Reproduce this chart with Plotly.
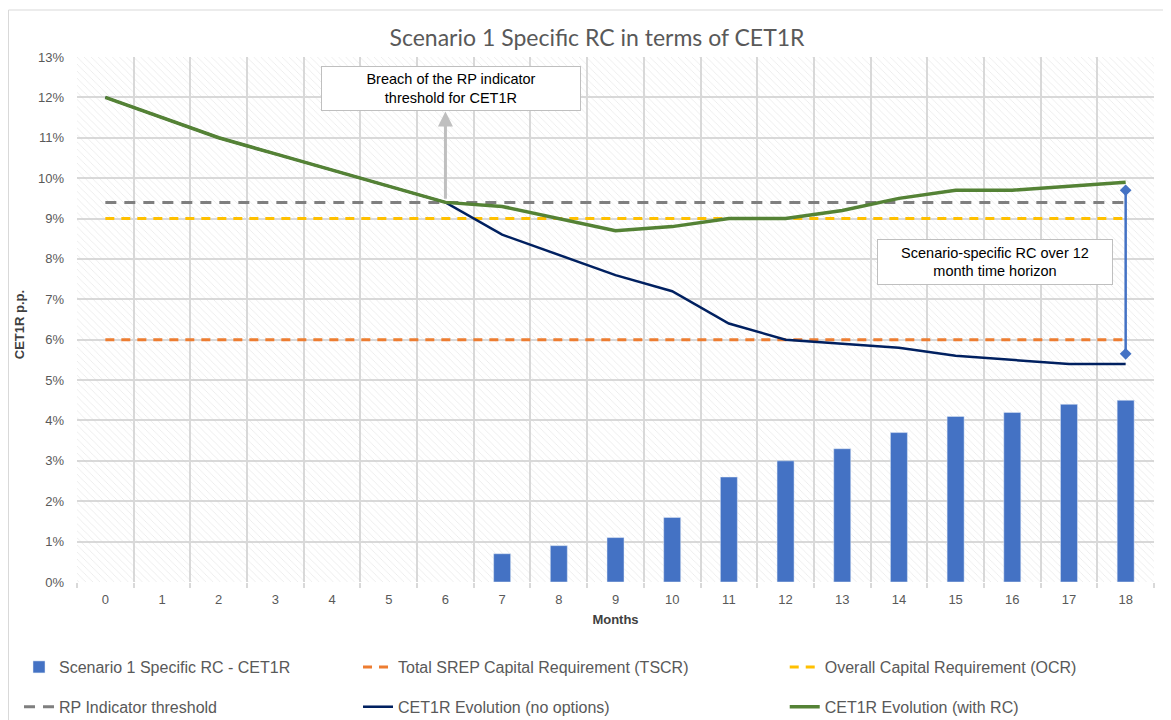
import plotly.graph_objects as go

# data (values in %)
months = list(range(19))
rc_bars = [None, None, None, None, None, None, None,
           0.7, 0.9, 1.1, 1.6, 2.6, 3.0, 3.3, 3.7, 4.1, 4.2, 4.4, 4.5]
cet1r_no_options = [12.0, 11.5, 11.0, 10.6, 10.2, 9.8, 9.4, 8.6, 8.1, 7.6,
                    7.2, 6.4, 6.0, 5.9, 5.8, 5.6, 5.5, 5.4, 5.4]
cet1r_with_rc = [12.0, 11.5, 11.0, 10.6, 10.2, 9.8, 9.4, 9.3, 9.0, 8.7,
                 8.8, 9.0, 9.0, 9.2, 9.5, 9.7, 9.7, 9.8, 9.9]
tscr_level = 6.0
ocr_level = 9.0
rp_threshold = 9.4
rc_arrow_y = [9.7, 5.65]
y_range = [0, 13]

GRID = '#D9D9D9'
TXT = '#595959'
FONT = 'Liberation Sans, Arial'

fig = go.Figure()

# hatched plot background on the base axes; all data sits on an overlaid pair (x2/y2)
x0, x1 = months[0] - 0.5, months[-1] + 0.5
fig.add_trace(go.Scatter(
    x=[x0, x1, x1, x0, x0], y=[y_range[0], y_range[0], y_range[1], y_range[1], y_range[0]],
    mode='none', fill='toself', fillcolor='rgba(0,0,0,0)',
    fillpattern=dict(shape='\\', fgcolor='#CFCFCF', bgcolor='rgba(0,0,0,0)', size=5, solidity=0.14),
    showlegend=False, hoverinfo='skip'))

n = len(months)
ax2 = dict(xaxis='x2', yaxis='y2')
fig.add_trace(go.Bar(x=months, y=rc_bars, name='Scenario 1 Specific RC - CET1R',
                     marker_color='#4472C4', width=0.3, legend='legend', legendgroup='a', **ax2))
fig.add_trace(go.Scatter(x=months, y=[tscr_level] * n, mode='lines',
                         name='Total SREP Capital Requirement (TSCR)',
                         line=dict(color='#ED7D31', width=3, dash='9px,7px'),
                         legend='legend2', legendgroup='c', **ax2))
fig.add_trace(go.Scatter(x=months, y=[ocr_level] * n, mode='lines',
                         name='Overall Capital Requirement (OCR)',
                         line=dict(color='#FFC000', width=3, dash='9px,7px'),
                         legend='legend3', legendgroup='e', **ax2))
fig.add_trace(go.Scatter(x=months, y=[rp_threshold] * n, mode='lines',
                         name='RP Indicator threshold',
                         line=dict(color='#7F7F7F', width=3, dash='11px,8px'),
                         legend='legend', legendgroup='b', **ax2))
fig.add_trace(go.Scatter(x=months, y=cet1r_no_options, mode='lines',
                         name='CET1R Evolution (no options)',
                         line=dict(color='#002060', width=2.5),
                         legend='legend2', legendgroup='d', **ax2))
fig.add_trace(go.Scatter(x=months, y=cet1r_with_rc, mode='lines',
                         name='CET1R Evolution (with RC)',
                         line=dict(color='#548235', width=3.5),
                         legend='legend3', legendgroup='f', **ax2))

# blue double arrow at month 18
fig.add_trace(go.Scatter(x=[months[-1]] * 2, y=rc_arrow_y, mode='lines+markers',
                         line=dict(color='#4472C4', width=2.5),
                         marker=dict(symbol='diamond', size=9, color='#4472C4'),
                         showlegend=False, hoverinfo='skip', **ax2))

leg = dict(orientation='v', font=dict(family=FONT, size=16, color=TXT),
           bgcolor='rgba(0,0,0,0)', tracegroupgap=16, yanchor='top', y=0.1083,
           xref='container', yref='container', xanchor='left', itemwidth=30)

fig.update_layout(
    width=1171, height=720,
    margin=dict(l=69, r=25, t=49, b=146, autoexpand=False),
    paper_bgcolor='white', plot_bgcolor='white',
    title=dict(text='Scenario 1 Specific RC in terms of CET1R', x=0.503, xanchor='center',
               y=0.958, yanchor='middle', xref='container', yref='container',
               font=dict(family='Lato, Open Sans', size=23, color=TXT)),
    font=dict(family=FONT, size=13, color=TXT),
    legend=dict(leg, x=0.0094),
    legend2=dict(leg, x=0.2989),
    legend3=dict(leg, x=0.6633),
    xaxis=dict(range=[x0, x1], tickvals=months, ticktext=[str(m) for m in months],
               showgrid=False, zeroline=False, showline=False,
               ticks='', tickfont=dict(family=FONT, size=13, color=TXT),
               ticklabelstandoff=8,
               minor=dict(tickvals=[m - 0.5 for m in months] + [x1], showgrid=True,
                          gridcolor=GRID, gridwidth=1.5, ticks='outside',
                          ticklen=5, tickcolor=GRID, tickwidth=1.5),
               title=dict(text='<b>Months</b>', font=dict(family=FONT, size=13, color='#404040'),
                          standoff=8)),
    yaxis=dict(range=y_range, dtick=1, ticksuffix='%', showgrid=True, gridcolor=GRID,
               gridwidth=1.5, zeroline=False, showline=False,
               tickfont=dict(family=FONT, size=13, color=TXT), ticklabelstandoff=12),
    xaxis2=dict(range=[x0, x1], overlaying='x', visible=False),
    yaxis2=dict(range=y_range, overlaying='y', visible=False),
    shapes=[dict(type='rect', xref='paper', yref='paper', x0=-0.0636, x1=1.013,
                 y0=-0.3, y1=1.0895, line=dict(color=GRID, width=1), layer='below')],
    annotations=[
        dict(x=-0.0622, y=0.49, xref='paper', yref='paper', showarrow=False, textangle=-90,
             text='<b>CET1R p.p.</b>', font=dict(family=FONT, size=13, color='#404040')),
        dict(x=6, y=11.65, ax=6, ay=rp_threshold + 0.05, xref='x2', yref='y2', axref='x2', ayref='y2',
             text='', showarrow=True, arrowhead=2, arrowsize=1, arrowwidth=3,
             arrowcolor='#BFBFBF'),
        dict(x=6.1, y=12.23, xref='x2', yref='y2', showarrow=False,
             text='Breach of the RP indicator<br>threshold for CET1R',
             font=dict(family=FONT, size=14.5, color='#000000'),
             bgcolor='white', bordercolor='#BFBFBF', borderwidth=1,
             width=256, height=41),
        dict(x=15.69, y=7.92, xref='x2', yref='y2', showarrow=False,
             text='Scenario-specific RC over 12<br>month time horizon',
             font=dict(family=FONT, size=14.5, color='#000000'),
             bgcolor='white', bordercolor='#BFBFBF', borderwidth=1,
             width=232, height=42),
    ],
)

fig.write_html('out.html')
